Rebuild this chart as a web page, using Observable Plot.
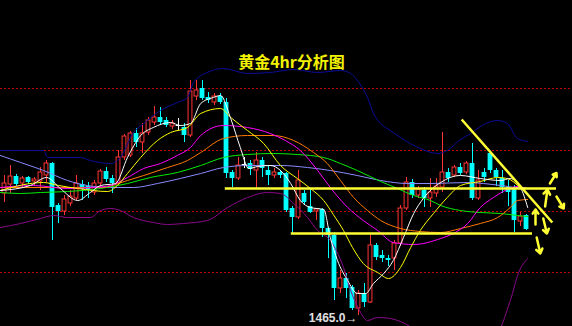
<!DOCTYPE html>
<html><head><meta charset="utf-8">
<script src="https://cdn.jsdelivr.net/npm/d3@7"></script>
<script src="https://cdn.jsdelivr.net/npm/@observablehq/plot@0.6"></script>
<style>html,body{margin:0;padding:0;background:#000;}#chart svg{display:block}</style>
</head><body><div id="chart"></div>
<script>
// ---- data (gold, 4h candles) ----
const TITLE = "黄金4hr分析图";
const LOW_LABEL = "1465.0→";
const openP  = [1513.8,1517.4,1520.6,1517.8,1520.2,1518.6,1518.6,1521,1525.8,1509,1506.6,1509.8,1511.8,1517.4,1516.6,1514.2,1517.8,1522.6,1519.8,1517.8,1528.2,1529,1537.8,1534.2,1538.2,1542.2,1544.2,1543,1540.6,1541,1540.2,1537,1552.6,1555.8,1552.2,1550.2,1552.6,1550.2,1522.2,1519.8,1525.4,1525.8,1523,1527,1523,1521,1522.2,1521.8,1507.8,1504.2,1513.8,1508.6,1506.6,1507.4,1499.8,1497,1475.8,1479.8,1476.2,1467.8,1473.8,1470.2,1493,1489,1487.8,1487.8,1493.8,1507.8,1518.2,1513,1515,1511.8,1513.8,1516.2,1522.2,1521,1524.2,1522.2,1525.8,1511.8,1522.2,1529.8,1523,1519.8,1516.2,1515.8,1502.6,1505];
const highP  = [1521,1525,1521.4,1520.6,1520.6,1520.2,1524.2,1527,1526.2,1509.8,1513,1515,1521,1519,1518.2,1519,1523.4,1524.2,1521,1531,1537.4,1538.6,1539.8,1541.8,1544.2,1548.6,1548.2,1544.2,1543,1543.8,1541.8,1559,1559,1559,1554.2,1553.8,1553.8,1551.8,1523,1528.2,1528.2,1527,1530.2,1528.2,1524.6,1523.8,1523,1522.2,1508.6,1523,1515,1515.8,1507.8,1507.8,1500.2,1498.2,1483,1481.8,1477,1475,1477.8,1497.8,1493.8,1491,1489,1495,1509,1520.2,1519.4,1516.6,1516.2,1519.8,1519.8,1538.2,1523.8,1525,1525.8,1526.6,1533.8,1523,1523.8,1530.2,1523.8,1523,1519,1517,1506.2,1505.4];
const lowP   = [1510.2,1513.8,1516.6,1516.2,1517.4,1517,1515,1518.2,1495,1501.8,1505,1508.6,1511,1511,1511.8,1513,1516.2,1518.2,1513.8,1517,1527,1528.2,1532.2,1529.8,1537,1541,1541,1540.2,1539.4,1539,1534.2,1536.2,1551,1551,1549.8,1549,1549.4,1519.8,1516.2,1519,1523.8,1521,1515.8,1520.2,1517,1519.8,1519.8,1506.2,1497.8,1503.4,1509.4,1505.8,1503,1496.2,1487.8,1471,1473.8,1471.8,1467,1465,1468.2,1469.8,1487,1486.2,1484.6,1483,1492.6,1507,1511.8,1511.8,1508.2,1508.2,1512.2,1514.2,1518.2,1520.2,1521,1521.4,1511,1511,1518.2,1521.8,1516.6,1513.8,1508.6,1498.2,1500.6,1499];
const closeP = [1517.8,1520.6,1517.4,1519.8,1518.2,1519.4,1522.2,1525.8,1508.2,1506.6,1511.4,1512.6,1517.8,1515.4,1515,1517.8,1522.6,1519.4,1517.8,1528.2,1536.6,1537.8,1534.2,1537.8,1543,1544.2,1542.2,1541,1541.8,1541,1537,1554.6,1555,1551.8,1551,1552.6,1550.2,1521.8,1519.8,1525,1525.4,1523.4,1527,1523.8,1521,1522.2,1521,1507,1504.2,1519,1510.2,1506.2,1507.4,1499.8,1497,1475.8,1479.8,1475.8,1467.8,1473.8,1470.2,1493,1488.2,1487.8,1487,1493.8,1507.8,1518.2,1513,1515.4,1511.8,1514.2,1516.6,1522.2,1519.8,1524.2,1521.8,1525.8,1511.8,1519,1520.2,1523,1520.2,1516.2,1514.2,1503,1504.6,1499.4];

// moving-average / band lines: bar position and price
const whiteX  = [-0.7,4.3,7,9.3,12.2,14.3,16,18.5,20.5,22.7,24.8,27.7,29.3,31,32.7,34.8,36,37.7,39.3,40.7,42.2,44.3,46,47.7,49.3,51,53.2,54.3,55.5,57.2,58.8,60.2,61.5,63.2,64.8,66.5,68.2,69.8,72.7,76,79.3,82.7,84.3,86,87.2];
const whiteY  = [1515,1517,1520.2,1515.8,1511,1514.2,1517,1517.8,1528.2,1537,1540.2,1542.2,1541,1541.8,1549.8,1552.2,1553,1543.8,1532.2,1523.8,1524.6,1525,1523,1517.8,1511,1508.2,1507.4,1496.2,1487,1479,1473.8,1473.8,1477.8,1481.8,1487,1496.2,1505.8,1511.8,1518.2,1521,1519.8,1519,1519.8,1516.2,1508.2];
const yellowX = [-0.7,6.5,9,12.2,17.2,18.8,20.5,22.7,25.5,27.7,30.5,32.7,36,37.7,40.5,43.2,46,48.8,51,53.2,54.8,56.5,58,59.8,62.2,64,66,67.7,69.3,71.5,73.8,76,79.3,82.2,83.8,85.7];
const yellowY = [1515,1518.2,1517,1515.8,1514.6,1517,1521.8,1528.2,1535,1538.2,1540.2,1545.8,1547.8,1544.2,1539,1533.8,1525,1519.8,1515.8,1511,1505.4,1499,1492.2,1485.8,1482.2,1479.8,1484.2,1492.2,1499,1505.8,1512.2,1517,1518.6,1520.2,1519.8,1516.6];
const magentaX = [-0.7,4.8,10.5,14.8,17.7,20.5,23.2,26,28.8,31,32.7,36.5,40.5,44.3,46.8,49.3,52.2,54.3,57.2,59.8,62.2,64.8,68.2,72.7,74.8,77.2,79.3,81.5,83.8,85.5,86.8];
const magentaY = [1516.2,1517,1515.8,1516.2,1517,1520.2,1523.8,1525.8,1529,1532.2,1537,1541,1540.2,1537.8,1535,1531,1523,1516.2,1508.2,1503,1499,1494.2,1493.4,1495.8,1497.8,1501.8,1508.2,1512.2,1515.4,1516.6,1515.8];
const orangeX = [-0.7,16,20.5,23.2,27.2,30.5,32.7,36.5,40.5,44.8,48.2,51.5,53.8,56,58.2,60.5,62.7,66,69.3,72.7,76,79.3,82.2,84.3,85.5,87.2];
const orangeY = [1516.2,1516.2,1519,1521,1524.2,1527,1530.2,1535.8,1537,1537,1535,1530.2,1525.8,1519,1512.2,1507,1503,1499.8,1498.6,1498.2,1499.8,1501.8,1504.2,1508.2,1511,1511.4];
const greenX  = [-0.7,2.7,6,10.5,16,20.5,24.3,28.8,32.7,36.5,40.5,44.8,48.8,53.2,56,58.8,62.7,65.5,68.2,71,72.7,76,79.3,82.7,85.5,87.2];
const greenY  = [1514.2,1513.8,1514.2,1514.6,1515.8,1517.8,1520.2,1522.2,1525,1528.2,1529.4,1529.8,1529.4,1528.2,1525.8,1523,1518.6,1515.8,1513,1511,1509,1507,1506.2,1505.8,1505,1504.6];
const lavX    = [-0.7,2.7,6.5,10.5,13.8,17.7,21.5,25.5,29.3,32.7,36.5,40.5,46,50.5,54.3,58.8,62.7,67.2,71,77.2,79.8,82.7,85.5,86.8];
const lavY    = [1529,1526.2,1523,1519,1517,1516.2,1516.2,1517.8,1519.8,1521.8,1524.2,1525,1525,1524.2,1523,1521,1519,1517.8,1517.8,1518.2,1517.8,1517,1516.2,1516.2];
const upperX  = [-0.7,6.5,7.2,12.7,14.3,17.7,19.3,21.5,23.2,26,28.8,30.5,31.5,33.8,36.5,40.5,44.3,48.2,52.2,56,57.7,58.8,60.5,61.5,62.7,64.3,66,69.3,72.2,73.8,76,77.7,79.3,82.2,83.8,85.5,87.2];
const upperY  = [1531,1531,1528.2,1528.2,1527,1525.8,1528.2,1538.2,1541.8,1547,1550.2,1552.2,1558.2,1562.2,1563.8,1561.8,1562.2,1563.4,1562.2,1563,1561.8,1559,1552.2,1545.8,1541.8,1539,1536.2,1531.8,1529.8,1531,1535.4,1537.8,1540.6,1543,1541.8,1535.8,1534.6];
const lowerX  = [-0.7,2.7,6,8.2,10.5,14.3,16,17.7,19.3,21.5,24.8,27.2,29.8,33.8,37.2,40.5,43.8,46,48.2,50.5,52.2,54.3,56.5,57.7,59,60.5,62.2,64.3,66,69.3,76,81.8,84.3,85.7,87.2];
const lowerY  = [1500.2,1501.8,1503.8,1505,1504.2,1504.2,1507,1507.8,1507,1504.2,1502.2,1501.4,1501.8,1503,1508.2,1512.2,1514.2,1513.8,1509.8,1504.2,1499,1495,1484.2,1475,1467.8,1463,1464.2,1463.8,1462.6,1458.2,1453,1457,1471,1482.2,1487.8];

const GRID = [1555.8,1531,1506.6,1482.2];
// hand-drawn annotations (bar position, price)
const levelLines = [{x1:36.8,x2:92,p:1515.8},{x1:47.8,x2:88,p:1497.8}];
const trendLine = [{x1:76.2,y1:1543.4,x2:91.3,y2:1502.2}];
const arrows = [
  {x1:88.5,y1:1501.4,x2:88.5,y2:1507.4},
  {x1:90.1,y1:1508.6,x2:90.5,y2:1515.4},
  {x1:90.9,y1:1517.8,x2:92,y2:1522},
  {x1:92,y1:1512.6,x2:93.2,y2:1507.8},
  {x1:89.8,y1:1503.8,x2:90.4,y2:1497.8},
  {x1:88.7,y1:1496.2,x2:89.3,y2:1489.8}
];
const lowMark = [{i:59,p:1465.0}];

// ---- build ----
const candles = openP.map((o,i)=>({i,o,h:highP[i],l:lowP[i],c:closeP[i]}));
const up = candles.filter(d=>d.c>d.o), dn = candles.filter(d=>d.c<d.o), dj = candles.filter(d=>d.c===d.o);
const RED="#ff3434", CYAN="#00ffff";
const pts = (xs,ys)=>xs.map((x,k)=>({x,y:ys[k]}));
const ln = (xs,ys,color,w=1)=>Plot.line(pts(xs,ys),{x:"x",y:"y",stroke:color,strokeWidth:w,curve:"monotone-x",clip:true});
const hw = 0.4;

const chart = Plot.plot({
  width:572, height:326, margin:0,
  style:{background:"#000"},
  x:{domain:[-2/3, 568/6], axis:null},
  y:{domain:[1460.6,1591], axis:null},
  marks:[
    Plot.ruleY(GRID,{stroke:"#c00000",strokeDasharray:"2,2",strokeWidth:1}),
    Plot.ruleX(candles,{x:"i",y1:"l",y2:"h",stroke:d=>d.c>d.o?RED:(d.c<d.o?CYAN:"#fff"),strokeWidth:1}),
    Plot.rect(dn,{x1:d=>d.i-hw,x2:d=>d.i+hw,y1:"o",y2:"c",fill:CYAN}),
    Plot.rect(up,{x1:d=>d.i-hw+0.08,x2:d=>d.i+hw-0.08,y1:"o",y2:"c",fill:"#000",stroke:RED,strokeWidth:1}),
    Plot.ruleY(dj,{y:"o",x1:d=>d.i-hw,x2:d=>d.i+hw,stroke:"#fff"}),
    ln(upperX,upperY,"#0c0c9a"),
    ln(lowerX,lowerY,"#8a0a8a"),
    ln(lavX,lavY,"#8a8aff"),
    ln(greenX,greenY,"#00ee00"),
    ln(orangeX,orangeY,"#ff7a00"),
    ln(magentaX,magentaY,"#ff00ff"),
    ln(yellowX,yellowY,"#ffff00"),
    ln(whiteX,whiteY,"#ffffff"),
    Plot.ruleY(levelLines,{y:"p",x1:"x1",x2:"x2",stroke:"#ffff33",strokeWidth:2.5}),
    Plot.link(trendLine,{x1:"x1",y1:"y1",x2:"x2",y2:"y2",stroke:"#ffff33",strokeWidth:2.5}),
    Plot.arrow(arrows,{x1:"x1",y1:"y1",x2:"x2",y2:"y2",stroke:"#ffff33",strokeWidth:2.5,headLength:9,headAngle:70,bend:false}),
    Plot.text(lowMark,{x:"i",y:"p",text:()=>LOW_LABEL,textAnchor:"end",dx:-1,dy:3,fill:"#e0e0e0",fontSize:12,fontWeight:"bold",fontFamily:"Liberation Sans, Arial, sans-serif"}),
    Plot.text([TITLE],{frameAnchor:"top",dy:62,dx:5,fill:"#f2f200",fontSize:16,fontWeight:"bold",fontFamily:"Noto Sans CJK SC",lineAnchor:"middle"})
  ]
});
document.getElementById("chart").appendChild(chart);
</script>
</body></html>
